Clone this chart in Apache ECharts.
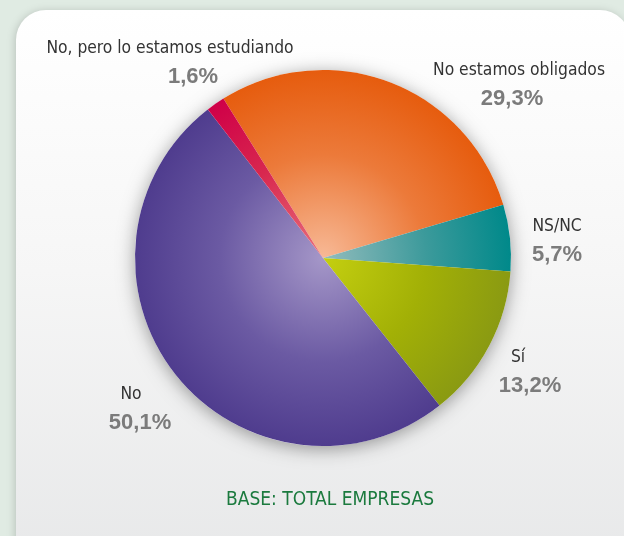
<!DOCTYPE html>
<html>
<head>
<meta charset="utf-8">
<script src="https://cdn.jsdelivr.net/npm/echarts@6/dist/echarts.min.js"></script>
<style>html,body{margin:0;padding:0;background:#e0ebe3;}#c{width:624px;height:536px;}</style>
</head>
<body>
<div id="c"></div>
<script>
// ---- data ----
const categories = ['No estamos obligados', 'NS/NC', 'Sí', 'No', 'No, pero lo estamos estudiando'];
const values = [29.3, 5.7, 13.2, 50.1, 1.6];
const titleText = 'BASE: TOTAL EMPRESAS';

// ---- styles / layout ----
const CX = 323, CY = 258, R = 188;
const edgeColors  = ['#e65c0e', '#00898a', '#8a9a12', '#4f3c8e', '#cf0048'];
const midColors   = ['#ec7a3a', '#3c9a9b', '#a2b006', '#6b5aa3', '#d8284f'];
const innerColors = ['#f7b996', '#93bcbd', '#c4cf10', '#a597c8', '#e8707c'];
const labelAnchors = [[519, 85], [557, 241], [518, 372], [131, 409], [170, 63]];
const valueShift = [-7, 0, 12, 9, 23];

const fmt = v => v.toFixed(1).replace('.', ',') + '%';
const nameFont = "'DejaVu Sans Condensed', 'Liberation Sans', sans-serif";
const valFont = "'Liberation Sans', Arial, sans-serif";

const rich = { n: { fontFamily: nameFont, fontSize: 17.3, color: '#333333', lineHeight: 28 } };
valueShift.forEach((s, i) => {
  rich['v' + i] = {
    fontFamily: valFont, fontSize: 22, fontWeight: 'bold', color: '#7b7b7b', lineHeight: 28,
    padding: s >= 0 ? [0, 0, 0, 2 * s] : [0, -2 * s, 0, 0]
  };
});

const grad = i => ({
  type: 'radial', x: CX, y: CY, r: R, global: true,
  colorStops: [
    { offset: 0, color: innerColors[i] },
    { offset: 0.55, color: midColors[i] },
    { offset: 1, color: edgeColors[i] }
  ]
});

const chart = echarts.init(document.getElementById('c'), null, { renderer: 'canvas' });
chart.setOption({
  backgroundColor: '#e0ebe3',
  animation: false,
  graphic: [{
    type: 'rect', z: -10, silent: true,
    shape: { x: 16, y: 10, width: 614, height: 580, r: 30 },
    style: {
      fill: { type: 'linear', x: 0, y: 0, x2: 0, y2: 1, colorStops: [
        { offset: 0, color: '#ffffff' }, { offset: 0.45, color: '#f6f6f6' }, { offset: 1, color: '#e6e7e8' }] },
      shadowBlur: 8, shadowColor: 'rgba(0,0,0,0.18)', shadowOffsetX: -1, shadowOffsetY: 1
    }
  }],
  title: {
    text: titleText, left: 221, top: 486,
    textStyle: { fontFamily: nameFont, fontSize: 19, fontWeight: 'normal', color: '#1b7a3e' }
  },
  series: [{
    type: 'pie', z: 1, silent: true, center: [CX, CY], radius: R,
    data: [{ value: 1 }], label: { show: false }, labelLine: { show: false },
    itemStyle: { color: '#ffffff', shadowBlur: 18, shadowColor: 'rgba(0,0,0,0.38)', shadowOffsetY: 3 }
  }, {
    type: 'pie', z: 2, center: [CX, CY], radius: R, startAngle: 122, clockwise: true,
    avoidLabelOverlap: false,
    emphasis: { disabled: true },
    data: categories.map((c, i) => ({
      name: c, value: values[i],
      itemStyle: { color: grad(i) },
      label: { formatter: '{n|' + c + '}\n{v' + i + '|' + fmt(values[i]) + '}' }
    })),
    label: { show: true, position: 'outside', rich: rich, align: 'center' },
    labelLine: { show: false },
    labelLayout: p => ({ x: labelAnchors[p.dataIndex][0], y: labelAnchors[p.dataIndex][1], align: 'center', verticalAlign: 'middle' })
  }]
});
</script>
</body>
</html>
